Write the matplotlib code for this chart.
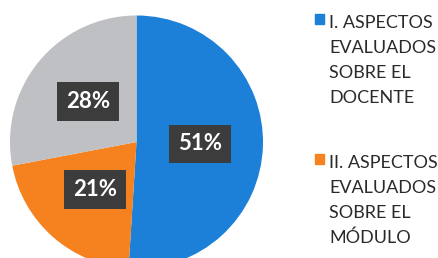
import matplotlib
matplotlib.use("Agg")
import matplotlib.pyplot as plt
import matplotlib.patches as mpatches

# datos del gráfico
categorias = ["I. ASPECTOS\nEVALUADOS\nSOBRE EL\nDOCENTE",
              "II. ASPECTOS\nEVALUADOS\nSOBRE EL\nMÓDULO",
              "III. ASPECTOS\nEVALUADOS"]
valores = [51, 21, 28]
colores = ["#1C7FD8", "#F5821F", "#BFC0C3"]

plt.rcParams["font.family"] = ["Lato", "DejaVu Sans"]

fig = plt.figure(figsize=(4.38, 2.58), dpi=100)
W, H = 438, 258
cx, cy, r = 136.5, 142, 126.5
ax = fig.add_axes([(cx - r) / W, (H - cy - r) / H, 2 * r / W, 2 * r / H])

wedges, textos, pct = ax.pie(valores, colors=colores, startangle=90, counterclock=False,
                             autopct=lambda p: "%d%%" % round(p), pctdistance=0.5,
                             wedgeprops=dict(edgecolor="none"), radius=1)
for t in pct:
    t.set_color("white")
    t.set_fontsize(16)
    t.set_fontweight("bold")
    t.set_bbox(dict(boxstyle="square,pad=0.4", fc="#3C3C3C", ec="none"))
ax.set_xlim(-1, 1)
ax.set_ylim(-1, 1)
ax.set_aspect("equal")
ax.axis("off")

# leyenda (solo caben las dos primeras entradas)
y0 = 28
for i in range(2):
    fig.patches.append(mpatches.Rectangle((315 / W, 1 - (y0 - 4) / H), 9 / W, 10 / H,
                                          color=colores[i], transform=fig.transFigure))
    for j, linea in enumerate(categorias[i].split("\n")):
        fig.text(329 / W, 1 - (y0 + 25 * j) / H, linea, fontsize=13,
                 color="#2A2A2A", ha="left", va="baseline")
    y0 += 140

fig.savefig("out.png", dpi=100)
